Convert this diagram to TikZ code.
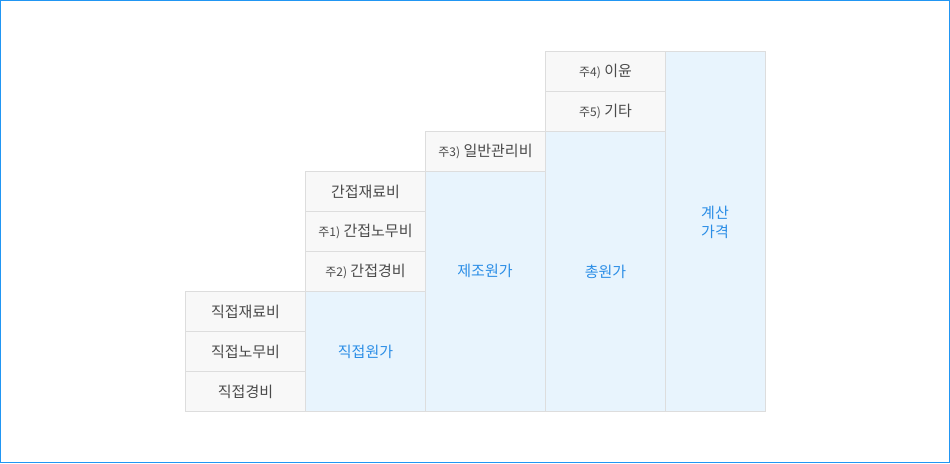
\documentclass[tikz,border=0pt]{standalone}
\usepackage{fontspec}
\setmainfont{Noto Sans CJK KR}
\usetikzlibrary{positioning}
\definecolor{framec}{HTML}{2196F3}
\definecolor{linec}{HTML}{DDDDDD}
\definecolor{grayc}{HTML}{F8F8F8}
\definecolor{bluec}{HTML}{E8F4FD}
\definecolor{textg}{HTML}{4A4A4A}
\definecolor{textb}{HTML}{2A8DE6}
\newcommand{\ju}[1]{{\fontsize{12}{14}\selectfont 주#1)} }

\begin{document}
\begin{tikzpicture}[x=1pt,y=-1pt,
  cell/.style={draw=linec, line width=1pt, fill=grayc, anchor=north west,
    minimum width=120pt, minimum height=40pt, inner sep=0pt,
    text=textg, font=\fontsize{15}{18}\selectfont},
  sumcell/.style={cell, fill=bluec, text=textb},
  sumtext/.style={text=textb, font=\fontsize{15}{19}\selectfont, align=center}]
  \useasboundingbox (0,0) rectangle (950,463);
  \draw[framec, line width=1pt] (0.5,0.5) rectangle (949.5,462.5);
  \node[cell] (jr) at (185,291) {직접재료비};
  \node[cell] (jn) at (185,331) {직접노무비};
  \node[cell] (jg) at (185,371) {직접경비};
  \node[cell] (gr) at (305,171) {간접재료비};
  \node[cell] (gn) at (305,211) {\ju{1}간접노무비};
  \node[cell] (gg) at (305,251) {\ju{2}간접경비};
  \node[sumcell, minimum height=120pt] (jw) at (305,291) {직접원가};
  \node[cell] (ig) at (425,131) {\ju{3}일반관리비};
  \node[sumcell, minimum height=240pt] (jz) at (425,171) {};
  \node[sumtext] (jzt) at (485,271) {제조원가};
  \node[cell] (iy) at (545,51) {\ju{4}이윤};
  \node[cell] (gt) at (545,91) {\ju{5}기타};
  \node[sumcell, minimum height=280pt] (cw) at (545,131) {총원가};
  \node[sumcell, minimum width=100pt, minimum height=360pt] (gk) at (665,51) {};
  \node[sumtext] (gkt) at (715,222) {계산\\가격};
\end{tikzpicture}
\end{document}
